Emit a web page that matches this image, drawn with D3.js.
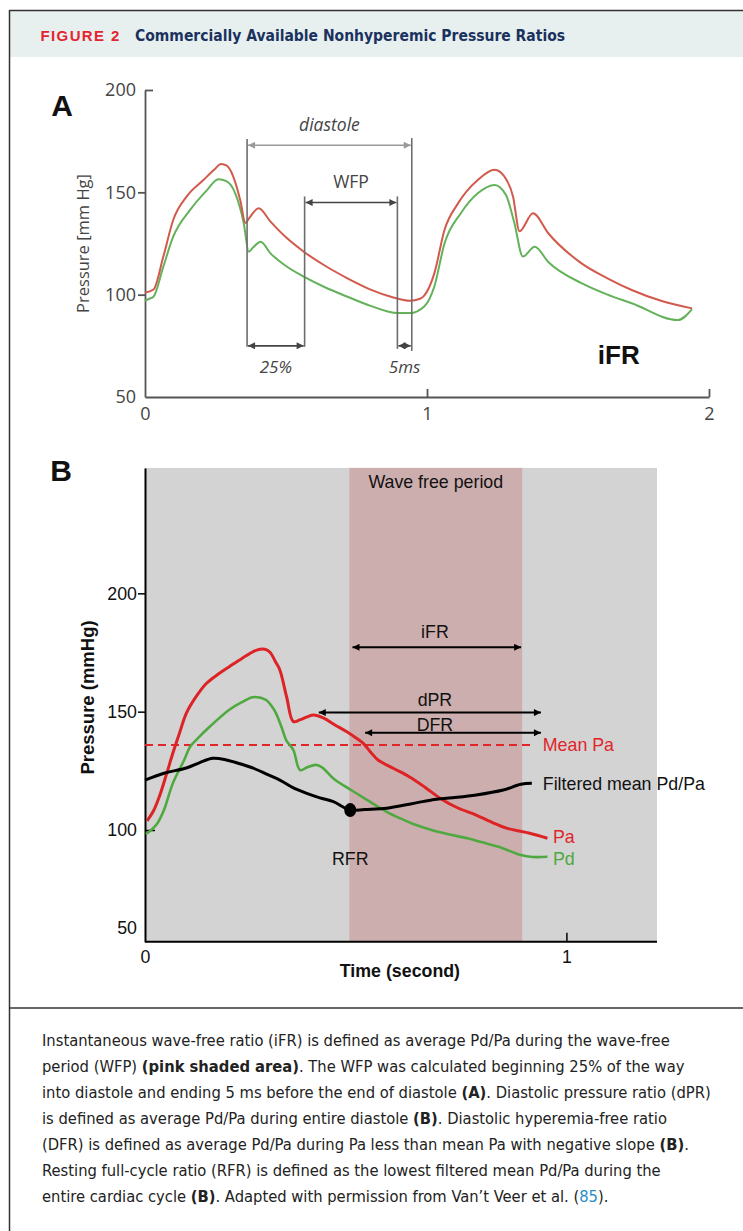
<!DOCTYPE html>
<html><head><meta charset="utf-8">
<script src="https://cdn.jsdelivr.net/npm/d3@7"></script>
<style>
html,body{margin:0;padding:0;background:#fff;}
svg{display:block;}
</style></head>
<body>
<script>
// ---------------- DATA ----------------
// Panel A (two cardiac cycles), [time s, pressure mmHg]
const paCurveA = [[0,101],[0.03,102.5],[0.065,118.6],[0.10,136.5],[0.148,148],[0.207,156],[0.245,161],[0.27,163.8],[0.29,163],[0.313,157.7],[0.338,146],[0.356,135],[0.37,137.5],[0.403,142.2],[0.445,135.7],[0.50,128],[0.563,121],[0.64,114],[0.718,108],[0.80,102.5],[0.872,99],[0.94,97],[0.975,98],[0.99,99.5],[1.026,110.4],[1.062,131.6],[1.11,144.6],[1.18,156],[1.24,161],[1.275,157.6],[1.305,148],[1.328,131],[1.376,139.8],[1.43,130],[1.548,115.3],[1.64,108],[1.726,102.3],[1.83,97],[1.94,93.3]];
const pdCurveA = [[0,97],[0.015,98],[0.03,99],[0.065,113.7],[0.10,128.3],[0.16,141.4],[0.22,151.1],[0.26,156.4],[0.29,155.3],[0.32,149.5],[0.35,135],[0.368,121],[0.383,123],[0.41,125.9],[0.445,120.2],[0.50,114],[0.563,108.8],[0.64,103.5],[0.718,99],[0.80,94.5],[0.896,91],[0.94,91],[0.99,94.2],[1.026,104],[1.062,125],[1.12,139.8],[1.18,149.5],[1.24,153.6],[1.28,148.7],[1.31,134.9],[1.34,118.6],[1.382,123.4],[1.43,116],[1.548,105.6],[1.64,100],[1.726,95.8],[1.89,87.6],[1.94,92.9]];
const yTicksA = [50,100,150,200];
const xTicksA = [0,1,2];
// diastole / WFP markers (s)
const diastoleA = [0.362, 0.946];
const wfpA = [0.566, 0.895];

// Panel B (one cycle)
const paCurveB = [[0.005,103.9],[0.02,108],[0.034,114.1],[0.05,123],[0.066,132.4],[0.082,141],[0.098,149.3],[0.12,156],[0.146,162],[0.175,166],[0.2,169],[0.23,172.5],[0.265,176],[0.284,176.4],[0.296,175.2],[0.31,171],[0.32,167.6],[0.336,156.3],[0.352,145.8],[0.367,146.5],[0.385,147.8],[0.40,148.6],[0.424,147.3],[0.45,144.5],[0.479,141.5],[0.50,139],[0.518,136.6],[0.535,133],[0.553,129.6],[0.59,126],[0.627,122.5],[0.665,118],[0.701,113.3],[0.74,109.5],[0.786,106.3],[0.82,103.5],[0.86,100.7],[0.913,98.6],[0.955,96.5]];
const pdCurveB = [[0.002,98.3],[0.014,99.9],[0.03,103],[0.045,108.4],[0.066,119.7],[0.093,129.6],[0.107,135.2],[0.124,138.5],[0.154,143.7],[0.2,150.8],[0.23,154],[0.256,156.1],[0.287,155],[0.30,152.5],[0.311,149.3],[0.325,143],[0.335,138],[0.352,133.8],[0.368,125.3],[0.385,126.5],[0.405,127.5],[0.42,126.5],[0.447,121.8],[0.489,116.9],[0.52,113.5],[0.553,109.8],[0.58,107],[0.606,104.9],[0.64,102.3],[0.68,100],[0.72,98.2],[0.765,96.5],[0.80,94.8],[0.839,92.9],[0.892,89.4],[0.92,88.6],[0.955,88.7]];
const filteredB = [[0,121.1],[0.045,124],[0.098,126.2],[0.13,128.5],[0.161,130.3],[0.193,129.6],[0.225,128],[0.257,126.1],[0.29,123.5],[0.32,121.1],[0.35,118],[0.384,115.5],[0.415,113.6],[0.447,112],[0.487,108.4],[0.521,108.7],[0.574,109.2],[0.63,111],[0.68,112.7],[0.73,113.6],[0.786,114.8],[0.85,116.9],[0.892,119.3],[0.918,119.7]];
const rfrPoint = [0.487, 108.4];
const meanPa = 135.9;
const wavefreeB = [0.485, 0.895];
const yTicksB = [50,100,150,200];
const xTicksB = [0,1];
// measurement windows in B (s)
const iFRspan = [0.49, 0.895];
const dPRspan = [0.41, 0.942];
const DFRspan = [0.52, 0.942];

const captionLines = [
  [["Instantaneous wave-free ratio (iFR) is defined as average Pd/Pa during the wave-free","n"]],
  [["period (WFP) ","n"],["(pink shaded area)","b"],[". The WFP was calculated beginning 25% of the way","n"]],
  [["into diastole and ending 5 ms before the end of diastole ","n"],["(A)","b"],[". Diastolic pressure ratio (dPR)","n"]],
  [["is defined as average Pd/Pa during entire diastole ","n"],["(B)","b"],[". Diastolic hyperemia-free ratio","n"]],
  [["(DFR) is defined as average Pd/Pa during Pa less than mean Pa with negative slope ","n"],["(B)","b"],[".","n"]],
  [["Resting full-cycle ratio (RFR) is defined as the lowest filtered mean Pd/Pa during the","n"]],
  [["entire cardiac cycle ","n"],["(B)","b"],[". Adapted with permission from Van\u2019t Veer et al. (","n"],["85","l"],[").","n"]]
];

// ---------------- DRAW ----------------
const W = 743, H = 1231;
const svg = d3.select("body").append("svg").attr("width", W).attr("height", H);
const condensed = "'Liberation Sans Narrow','DejaVu Sans Condensed','Arial Narrow',sans-serif";
const arial = "'Liberation Sans',Arial,sans-serif";
const humanist = "'Open Sans','Noto Sans',sans-serif";
const fmtInt = d3.format("d");

function fitWidth(sel, target) {
  const fs = parseFloat(sel.attr("font-size"));
  const len = sel.node().getComputedTextLength();
  if (len > 0) sel.attr("font-size", (fs * target / len).toFixed(2));
}

// frame + header
svg.append("rect").attr("x", 10).attr("y", 11).attr("width", W - 10).attr("height", 46).attr("fill", "#e8f0ef");
svg.append("line").attr("x1", 9.5).attr("x2", W).attr("y1", 10.5).attr("y2", 10.5).attr("stroke", "#333").attr("stroke-width", 1.5);
svg.append("line").attr("x1", 9.5).attr("x2", 9.5).attr("y1", 10).attr("y2", H).attr("stroke", "#333").attr("stroke-width", 1.5);
svg.append("line").attr("x1", 9.5).attr("x2", W).attr("y1", 1008).attr("y2", 1008).attr("stroke", "#333").attr("stroke-width", 1.5);

const figLbl = svg.append("text").attr("x", 40.5).attr("y", 41).attr("font-family", arial).attr("font-weight", "bold")
  .attr("font-size", 14).attr("letter-spacing", 1.4).attr("fill", "#e2252f").text("FIGURE 2");
fitWidth(figLbl, 81);
const title = svg.append("text").attr("x", 135).attr("y", 41).attr("font-family", condensed).attr("font-weight", "bold")
  .attr("font-size", 16).attr("fill", "#1b325f").text("Commercially Available Nonhyperemic Pressure Ratios");
fitWidth(title, 430);

// marker defs
const defs = svg.append("defs");
function marker(id, color, w, h) {
  defs.append("marker").attr("id", id).attr("viewBox", "0 0 10 10").attr("refX", 10).attr("refY", 5)
    .attr("markerUnits", "userSpaceOnUse").attr("markerWidth", w).attr("markerHeight", h)
    .attr("orient", "auto-start-reverse")
    .append("path").attr("d", "M0,0 L10,5 L0,10 z").attr("fill", color);
}
marker("arrGrayL", "#9a9a9a", 10, 7);
marker("arrGrayD", "#444", 10, 7);
marker("arrBlk", "#000", 8, 7);

// ======== PANEL A ========
const xA = d3.scaleLinear().domain([0, 2]).range([145, 709]);
const yA = d3.scaleLinear().domain([50, 200]).range([397, 90]);
const gA = svg.append("g");
const axisCol = "#555";

gA.append("text").attr("x", 62).attr("y", 116).attr("text-anchor", "middle").attr("font-family", arial)
  .attr("font-weight", "bold").attr("font-size", 30).attr("fill", "#111").text("A");

const yAxA = gA.append("g").attr("transform", `translate(${xA(0)},0)`)
  .call(d3.axisLeft(yA).tickValues(yTicksA).tickFormat(fmtInt).tickSize(7).tickSizeOuter(0).tickPadding(6));
yAxA.select(".domain").attr("stroke", axisCol).attr("stroke-width", 1.8);
yAxA.selectAll(".tick line").attr("stroke", axisCol).attr("stroke-width", 1.8)
  .attr("x2", d => d === 200 ? 8 : (d === 50 ? 0 : -7));
yAxA.selectAll(".tick text").attr("font-family", humanist).attr("font-size", 18).attr("fill", "#444")
  .attr("x", -9);

const xAxA = gA.append("g").attr("transform", `translate(0,${yA(50)})`)
  .call(d3.axisBottom(xA).tickValues(xTicksA).tickFormat(fmtInt).tickSize(-8).tickSizeOuter(0).tickPadding(8));
xAxA.select(".domain").attr("stroke", axisCol).attr("stroke-width", 1.8);
xAxA.selectAll(".tick line").attr("stroke", axisCol).attr("stroke-width", 1.8).attr("y2", d => d === 0 ? 0 : -8);
xAxA.selectAll(".tick text").attr("font-family", humanist).attr("font-size", 18).attr("fill", "#444").attr("y", 10);

gA.append("text").attr("transform", `translate(${85},${yA(125)}) rotate(-90)`).attr("text-anchor", "middle")
  .attr("dominant-baseline", "middle")
  .attr("font-family", humanist).attr("font-size", 16.5).attr("fill", "#444").text("Pressure [mm Hg]");

const lineA = d3.line().x(d => xA(d[0])).y(d => yA(d[1])).curve(d3.curveMonotoneX);
gA.append("path").datum(pdCurveA).attr("d", lineA).attr("fill", "none").attr("stroke", "#63b25a").attr("stroke-width", 2);
gA.append("path").datum(paCurveA).attr("d", lineA).attr("fill", "none").attr("stroke", "#d25a4c").attr("stroke-width", 2);

// annotation lines A
const annCol = "#6d6d6d";
function vline(t, pTop, pBot) {
  gA.append("line").attr("x1", xA(t)).attr("x2", xA(t)).attr("y1", yA(pTop)).attr("y2", yA(pBot))
    .attr("stroke", annCol).attr("stroke-width", 1.6);
}
vline(diastoleA[0], 176, 74.5);
vline(diastoleA[1], 176.5, 72.5);
vline(wfpA[0], 148, 74.5);
vline(wfpA[1], 148, 73.5);
function harrow(t0, t1, p, markerId, color) {
  gA.append("line").attr("x1", xA(t0) + 1).attr("x2", xA(t1) - 1).attr("y1", yA(p)).attr("y2", yA(p))
    .attr("stroke", color).attr("stroke-width", 1.6)
    .attr("marker-start", `url(#${markerId})`).attr("marker-end", `url(#${markerId})`);
}
harrow(diastoleA[0], diastoleA[1], 173, "arrGrayL", "#9a9a9a");
harrow(wfpA[0], wfpA[1], 145, "arrGrayD", "#444");
harrow(diastoleA[0], wfpA[0], 75, "arrGrayD", "#444");
harrow(wfpA[1], diastoleA[1], 75, "arrGrayD", "#444");

const annTxt = (t, p, s, italic, size) => gA.append("text").attr("x", xA(t)).attr("y", yA(p))
  .attr("text-anchor", "middle").attr("dominant-baseline", "middle").attr("font-family", humanist)
  .attr("font-style", italic ? "italic" : "normal").attr("font-size", size).attr("fill", "#444").text(s);
annTxt((diastoleA[0] + diastoleA[1]) / 2, 182.5, "diastole", true, 17.5);
annTxt((wfpA[0] + wfpA[1]) / 2, 154.5, "WFP", false, 17.5);
annTxt((diastoleA[0] + wfpA[0]) / 2, 64, "25%", true, 17);
annTxt((wfpA[1] + diastoleA[1]) / 2, 64, "5ms", true, 17);
gA.append("text").attr("x", xA(1.68)).attr("y", yA(69.5)).attr("text-anchor", "middle").attr("dominant-baseline", "middle")
  .attr("font-family", arial).attr("font-weight", "bold").attr("font-size", 26).attr("fill", "#111").text("iFR");

// ======== PANEL B ========
const xB = d3.scaleLinear().domain([0, 1.215]).range([145, 657]);
const yB = d3.scaleLinear().domain([52.8, 253]).range([941.7, 467.9]);
const gB = svg.append("g");
const fsB = 17.8;

gB.append("text").attr("x", 61).attr("y", 481).attr("text-anchor", "middle").attr("font-family", arial)
  .attr("font-weight", "bold").attr("font-size", 30).attr("fill", "#111").text("B");

gB.append("rect").attr("x", xB(0)).attr("y", yB(253)).attr("width", xB(1.215) - xB(0)).attr("height", yB(52.8) - yB(253))
  .attr("fill", "#d3d3d3");
gB.append("rect").attr("x", xB(wavefreeB[0])).attr("y", yB(253)).attr("width", xB(wavefreeB[1]) - xB(wavefreeB[0]))
  .attr("height", yB(52.8) - yB(253)).attr("fill", "#cdaeae");

gB.append("text").attr("x", xB((wavefreeB[0] + wavefreeB[1]) / 2)).attr("y", yB(246.6)).attr("text-anchor", "middle")
  .attr("dominant-baseline", "middle").attr("font-family", arial).attr("font-size", fsB).attr("fill", "#111").text("Wave free period");

// axes
const yAxB = gB.append("g").attr("transform", `translate(${xB(0)},0)`)
  .call(d3.axisLeft(yB).tickValues(yTicksB).tickFormat(fmtInt).tickSize(7).tickSizeOuter(0).tickPadding(4));
yAxB.select(".domain").attr("stroke", "#000").attr("stroke-width", 2);
yAxB.selectAll(".tick line").attr("stroke", "#000").attr("stroke-width", 1.5)
  .attr("x2", d => d === 100 ? 10 : (d === 50 ? 0 : -7));
yAxB.selectAll(".tick text").attr("font-family", arial).attr("font-size", fsB).attr("fill", "#111").attr("x", -8)
  .attr("y", d => d === 50 ? yB(58.5) - yB(50) : 0);

const xAxB = gB.append("g").attr("transform", `translate(0,${yB(52.8)})`)
  .call(d3.axisBottom(xB).tickValues(xTicksB).tickFormat(fmtInt).tickSize(-9).tickSizeOuter(0).tickPadding(8));
xAxB.select(".domain").attr("stroke", "#000").attr("stroke-width", 2).attr("d", `M${xB(0)},0H${xB(1.215)}`);
xAxB.selectAll(".tick line").attr("stroke", "#000").attr("stroke-width", 1.5).attr("y2", d => d === 0 ? 0 : -9);
xAxB.selectAll(".tick text").attr("font-family", arial).attr("font-size", fsB).attr("fill", "#111").attr("y", 9);
gB.append("text").attr("x", xB(0.605)).attr("y", yB(52.8) + 35).attr("text-anchor", "middle").attr("font-family", arial)
  .attr("font-weight", "bold").attr("font-size", fsB).attr("fill", "#111").text("Time (second)");
gB.append("text").attr("transform", `translate(${89},${yB(156)}) rotate(-90)`).attr("text-anchor", "middle")
  .attr("dominant-baseline", "middle").attr("font-family", arial).attr("font-weight", "bold").attr("font-size", 18.5)
  .attr("fill", "#111").text("Pressure (mmHg)");

// measurement arrows
function barrow(span, p, label, lp) {
  gB.append("line").attr("x1", xB(span[0]) + 1).attr("x2", xB(span[1]) - 1).attr("y1", yB(p)).attr("y2", yB(p))
    .attr("stroke", "#000").attr("stroke-width", 2)
    .attr("marker-start", "url(#arrBlk)").attr("marker-end", "url(#arrBlk)");
  gB.append("text").attr("x", xB(0.688)).attr("y", yB(lp)).attr("text-anchor", "middle").attr("dominant-baseline", "middle")
    .attr("font-family", arial).attr("font-size", fsB).attr("fill", "#111").text(label);
}
barrow(iFRspan, 177.2, "iFR", 183.2);
barrow(dPRspan, 149.6, "dPR", 154.4);
barrow(DFRspan, 141.1, "DFR", 144.0);

// mean Pa
gB.append("line").attr("x1", xB(0)).attr("x2", xB(0.92)).attr("y1", yB(meanPa)).attr("y2", yB(meanPa))
  .attr("stroke", "#e0262b").attr("stroke-width", 2).attr("stroke-dasharray", "8,5");

const lineB = d3.line().x(d => xB(d[0])).y(d => yB(d[1])).curve(d3.curveCatmullRom.alpha(0.5));
gB.append("path").datum(pdCurveB).attr("d", lineB).attr("fill", "none").attr("stroke", "#4fa940").attr("stroke-width", 2.6)
  .attr("stroke-linejoin", "round");
gB.append("path").datum(paCurveB).attr("d", lineB).attr("fill", "none").attr("stroke", "#dd2326").attr("stroke-width", 3)
  .attr("stroke-linejoin", "round");
gB.append("path").datum(filteredB).attr("d", lineB).attr("fill", "none").attr("stroke", "#000").attr("stroke-width", 3)
  .attr("stroke-linejoin", "round");
gB.append("ellipse").attr("cx", xB(rfrPoint[0])).attr("cy", yB(rfrPoint[1])).attr("rx", 6).attr("ry", 7).attr("fill", "#000");

const lab = (t, p, s, col, anchor) => gB.append("text").attr("x", xB(t)).attr("y", yB(p)).attr("text-anchor", anchor || "start")
  .attr("dominant-baseline", "middle").attr("font-family", arial).attr("font-size", fsB).attr("fill", col).text(s);
lab(0.944, meanPa - 0.4, "Mean Pa", "#e0262b");
lab(0.944, 119, "Filtered mean Pd/Pa", "#111");
lab(0.968, 96.6, "Pa", "#e0262b");
lab(0.968, 87, "Pd", "#4fa940");
lab(rfrPoint[0], 87.3, "RFR", "#111", "middle");

// ======== CAPTION ========
const cap = svg.append("g").attr("font-family", condensed).attr("fill", "#222");
let capSize = 17;
const lines = [];
captionLines.forEach((segs, i) => {
  const t = cap.append("text").attr("x", 42).attr("y", 1046 + i * 26).attr("font-size", capSize);
  segs.forEach(([s, k]) => {
    t.append("tspan").text(s).attr("font-weight", k === "b" ? "bold" : "normal").attr("fill", k === "l" ? "#2a8dc5" : null);
  });
  lines.push(t);
});
// fit font size so the longest line matches the reference width
const l3 = lines[2].node().getComputedTextLength();
const newSize = capSize * 669 / l3;
lines.forEach(t => t.attr("font-size", newSize.toFixed(2)));
</script>
</body></html>
